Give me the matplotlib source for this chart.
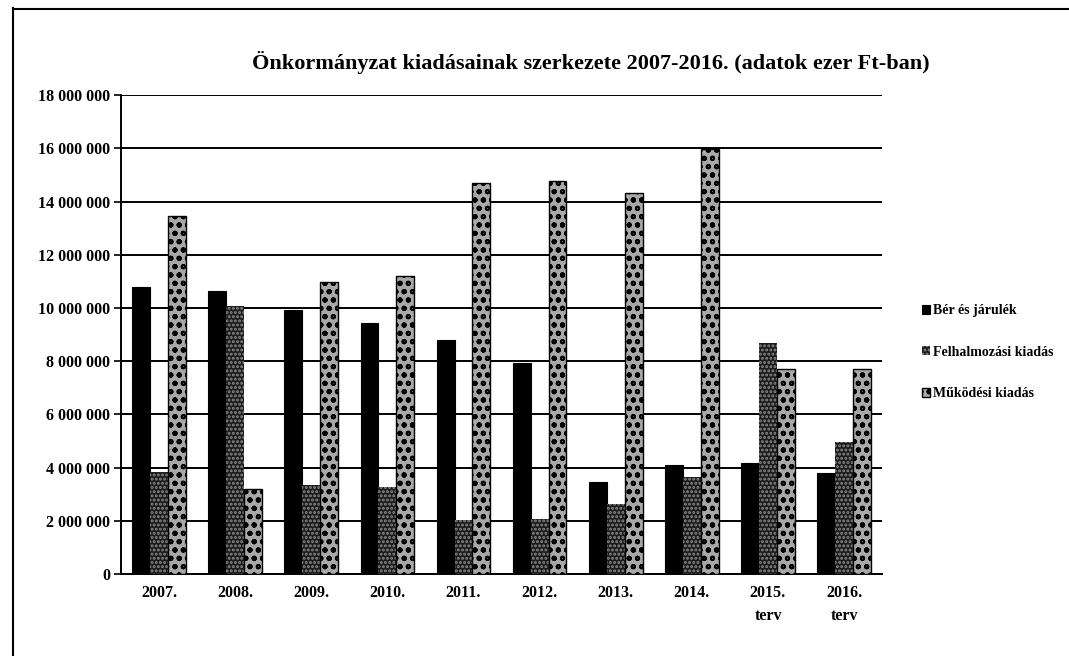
import numpy as np
import matplotlib
matplotlib.use("Agg")
import matplotlib.pyplot as plt
from matplotlib.lines import Line2D
from matplotlib.ticker import FuncFormatter, MultipleLocator

# Data (ezer Ft)
years = ["2007.", "2008.", "2009.", "2010.", "2011.", "2012.", "2013.", "2014.",
         "2015.\nterv", "2016.\nterv"]
ber = [10780000, 10630000, 9920000, 9420000, 8800000, 7940000, 3470000, 4100000,
       4180000, 3790000]
felhalmozasi = [3850000, 10090000, 3350000, 3260000, 2030000, 2060000, 2630000,
                3660000, 8670000, 4950000]
mukodesi = [13460000, 3180000, 10990000, 11210000, 14710000, 14770000, 14310000,
            15970000, 7700000, 7700000]
series_names = ["Bér és járulék", "Felhalmozási kiadás", "Működési kiadás"]

plt.rcParams['font.family'] = ['Liberation Serif', 'DejaVu Serif']
plt.rcParams['font.weight'] = 'bold'
plt.rcParams['hatch.linewidth'] = 1.4

fig = plt.figure(figsize=(10.69, 6.56), dpi=100)
ax = fig.add_axes([0.1132, 0.125, 0.712, 0.730])

x = np.arange(len(years))
w = 0.235

ax.bar(x - w, ber, w, color='black', edgecolor='black', linewidth=0.8,
       label=series_names[0], zorder=3)
ax.bar(x, felhalmozasi, w, color='#1c1c1c', edgecolor='#8a8a8a', linewidth=0,
       hatch='....', label=series_names[1], zorder=3)
ax.bar(x + w, mukodesi, w, color='#a8a8a8', edgecolor='black', linewidth=1.0,
       hatch='oo', label=series_names[2], zorder=3)

# axes styling
ax.set_ylim(0, 18000000)
ax.set_xlim(-0.5, len(years) - 0.5)
ax.yaxis.set_major_locator(MultipleLocator(2000000))
ax.yaxis.set_major_formatter(FuncFormatter(lambda v, p: f"{int(v):,}".replace(",", " ")))
ax.grid(axis='y', color='black', linewidth=1.4, zorder=0)
ax.set_axisbelow(True)
for s in ['top', 'right']:
    ax.spines[s].set_visible(False)
ax.spines['left'].set_linewidth(1.4)
ax.spines['bottom'].set_linewidth(1.4)
ax.set_xticks(x)
ax.set_xticklabels(years, fontsize=11.5, fontweight='bold', linespacing=1.6)
ax.tick_params(axis='x', length=0, pad=8)
ax.tick_params(axis='y', length=5, width=1.2, labelsize=11.5, pad=3)

fig.text(0.553, 0.905, "Önkormányzat kiadásainak szerkezete 2007-2016. (adatok ezer Ft-ban)",
         ha='center', va='center', fontsize=16, fontweight='bold')

leg = ax.legend(loc='center left', bbox_to_anchor=(1.045, 0.463), frameon=False,
                fontsize=10, handlelength=0.6, handleheight=0.6, handletextpad=0.2,
                labelspacing=2.05, borderaxespad=0)

# scanned page frame (left and top edges)
fig.add_artist(Line2D([0.0125, 0.0125], [0.0, 0.988], color='black', linewidth=1.5,
                      transform=fig.transFigure))
fig.add_artist(Line2D([0.0125, 1.0], [0.987, 0.987], color='black', linewidth=1.5,
                      transform=fig.transFigure))

fig.savefig("out.png", dpi=100)
